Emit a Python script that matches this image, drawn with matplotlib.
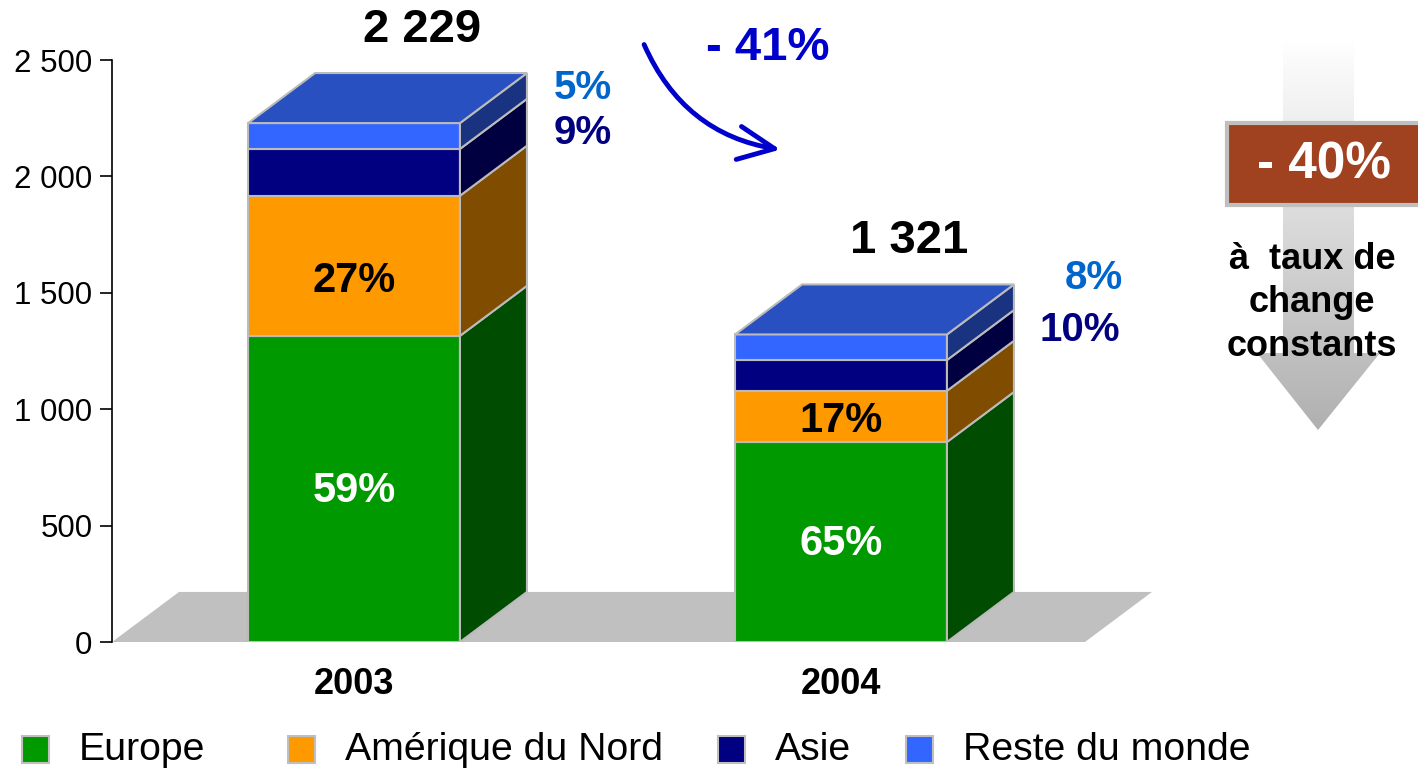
import numpy as np
import matplotlib
matplotlib.use("Agg")
import matplotlib.pyplot as plt
from matplotlib.patches import Rectangle, Polygon, FancyArrowPatch

plt.rcParams['font.family'] = ['Liberation Sans', 'DejaVu Sans']

# Donnees
years = ["2003", "2004"]
regions = ["Europe", "Amérique du Nord", "Asie", "Reste du monde"]
values = {
    "Europe": [1315, 859],
    "Amérique du Nord": [602, 220],
    "Asie": [201, 132],
    "Reste du monde": [111, 110],
}
shares = {
    "Europe": ["59%", "65%"],
    "Amérique du Nord": ["27%", "17%"],
    "Asie": ["9%", "10%"],
    "Reste du monde": ["5%", "8%"],
}
totals = [2229, 1321]
change_label = "- 41%"
constant_label = "- 40%"
constant_text = "à  taux de\nchange\nconstants"

# Couleurs: face avant, cote
front_colors = ["#009900", "#FF9900", "#000080", "#3366FF"]
side_colors = ["#004C00", "#7F4C00", "#000040", "#1A3380"]
top_color = "#2850C0"
edge = "#BBBBBB"
inner_text_colors = ["white", "black"]
outer_text_colors = {"Asie": "#000080", "Reste du monde": "#0066CC"}

W, H = 1418, 772
fig = plt.figure(figsize=(W / 100, H / 100), dpi=100)
ax = fig.add_axes([112 / W, (H - 642) / H, (1160 - 112) / W, (642 - 60) / H])
ax.set_xlim(-0.497, 1.655)
ax.set_ylim(0, 2500)

bar_w = 0.435
dx, dy = 0.1376, 215

# sol gris
floor_left, floor_right = -0.497, 1.501
ax.add_patch(Polygon([(floor_left, 0), (floor_right, 0), (floor_right + dx, dy),
                      (floor_left + dx, dy)], closed=True, facecolor="#C0C0C0",
                     edgecolor="none", zorder=1, clip_on=False))

# decalage vertical des etiquettes interieures (Europe, Amerique)
inner_shift = [[-10, -65], [-10, -20]]
# positions des etiquettes hors barres (Asie, Reste du monde)
outer_pos = [
    {"Asie": (0.47, 2186), "Reste du monde": (0.47, 2380)},
    {"Asie": (1.49, 1340), "Reste du monde": (1.52, 1564)},
]

for i, year in enumerate(years):
    bottom = 0
    left, right = i - bar_w / 2, i + bar_w / 2
    for k, region in enumerate(regions):
        v = values[region][i]
        ax.add_patch(Rectangle((left, bottom), bar_w, v, facecolor=front_colors[k],
                               edgecolor=edge, linewidth=1.5, zorder=3))
        ax.add_patch(Polygon([(right, bottom), (right + dx, bottom + dy),
                              (right + dx, bottom + v + dy), (right, bottom + v)],
                             closed=True, facecolor=side_colors[k], edgecolor=edge,
                             linewidth=1.5, zorder=3))
        if k < 2:
            ax.text(i, bottom + v / 2 + inner_shift[i][k], shares[region][i],
                    ha="center", va="center", fontsize=30, fontweight="bold",
                    color=inner_text_colors[k], zorder=5)
        else:
            px, py = outer_pos[i][region]
            ax.text(px, py, shares[region][i], ha="center", va="center",
                    fontsize=29, fontweight="bold", color=outer_text_colors[region],
                    clip_on=False)
        bottom += v
    ax.add_patch(Polygon([(left, bottom), (left + dx, bottom + dy),
                          (right + dx, bottom + dy), (right, bottom)], closed=True,
                         facecolor=top_color, edgecolor=edge, linewidth=1.5, zorder=3))
    ax.text(i + 0.14, totals[i] + 400, f"{totals[i]:,}".replace(",", " "),
            ha="center", va="center", fontsize=34, fontweight="bold", clip_on=False)

ax.set_yticks(np.arange(0, 2501, 500))
ax.set_yticklabels([f"{t:,}".replace(",", " ") for t in range(0, 2501, 500)], fontsize=22.5)
ax.tick_params(axis="y", length=9, width=1.2, pad=5)
ax.set_xticks(range(len(years)))
ax.set_xticklabels(years, fontsize=26, fontweight="bold")
ax.tick_params(axis="x", length=0, pad=18)
for s in ["top", "right", "bottom"]:
    ax.spines[s].set_visible(False)
ax.spines["left"].set_linewidth(1.2)
ax.patch.set_alpha(0)

# calque en pixels pour les annotations
ov = fig.add_axes([0, 0, 1, 1])
ov.set_xlim(0, W)
ov.set_ylim(H, 0)
ov.axis("off")
ov.patch.set_alpha(0)

ov.text(768, 48, change_label, ha="center", va="center", fontsize=34,
        fontweight="bold", color="#0000CC")
ov.add_patch(FancyArrowPatch((643, 42), (783, 150), connectionstyle="arc3,rad=0.28",
                             arrowstyle="->,head_length=1.3,head_width=0.6",
                             color="#0000CC", linewidth=3.5, mutation_scale=20))

# fleche grise en degrade
arrow_pts = [(1283, 40), (1354, 40), (1354, 353), (1380, 353), (1318, 430),
             (1257, 353), (1283, 353)]
grad = np.linspace(0, 1, 256).reshape(-1, 1)
img = ov.imshow(grad, cmap=matplotlib.colors.LinearSegmentedColormap.from_list(
    "g", ["#FFFFFF", "#B0B0B0"]), extent=[1257, 1380, 430, 40], aspect="auto",
    zorder=1)
clip = Polygon(arrow_pts, closed=True, transform=ov.transData, facecolor="none",
               edgecolor="none")
ov.add_patch(clip)
img.set_clip_path(clip)
ov.set_xlim(0, W)
ov.set_ylim(H, 0)

ov.add_patch(Rectangle((1227, 123), 220, 82, facecolor="#A0411F", edgecolor="#BFBFBF",
                       linewidth=3, zorder=2, clip_on=False))
ov.text(1324, 165, constant_label, ha="center", va="center", fontsize=37,
        fontweight="bold", color="white", zorder=3)
ov.text(1312, 303, constant_text, ha="center", va="center", fontsize=26,
        fontweight="bold", linespacing=1.32, zorder=3)

# legende
legend_x = [22, 288, 718, 906]
for k, region in enumerate(regions):
    x0 = legend_x[k]
    ov.add_patch(Rectangle((x0, 736), 27, 27, facecolor=front_colors[k],
                           edgecolor="#BFBFBF", linewidth=1.5))
    ov.text(x0 + 57, 750, region, ha="left", va="center", fontsize=28.3)

fig.savefig("out.png", dpi=100)
